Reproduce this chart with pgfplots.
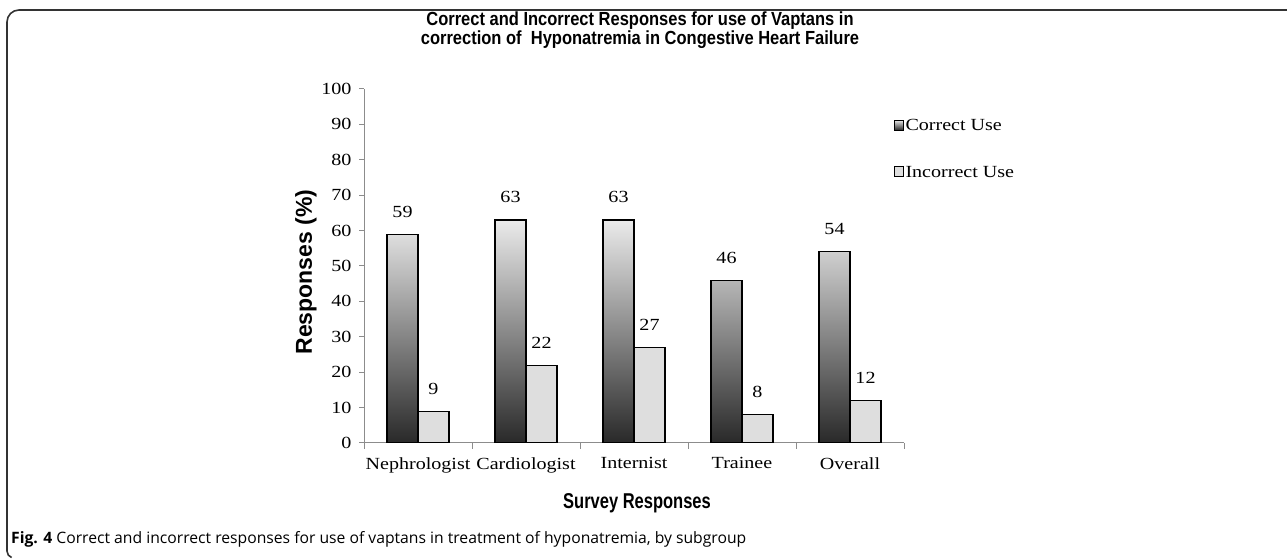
\documentclass[border=0pt]{standalone}
\usepackage{fontspec}
\setmainfont{Liberation Serif}[FakeStretch=1.18]
\newfontfamily\sansf{Liberation Sans}
\newfontfamily\capf{Open Sans}
\usepackage{pgfplots}
\pgfplotsset{compat=1.18}
\pgfplotsset{sqlegend/.style={legend image code/.code={\draw[##1, line width=0.8bp] (0bp,-4bp) rectangle (9bp,6bp);}}}
\pgfplotstableread{
x correct incorrect
0 59 9
1 63 22
2 63 27
3 46 8
4 54 12
}\datatable
\begin{document}
\begin{tikzpicture}[x=1bp,y=1bp]
\path[use as bounding box] (0,0) rectangle (1287,559);
\draw[line width=1.6bp, black!80] (1287,549) -- (19,549) arc[start angle=90,end angle=180,radius=12] -- (7,8) arc[start angle=180,end angle=250,radius=7];
\begin{axis}[
  at={(364bp,116bp)}, anchor=south west,
  scale only axis, width=540bp, height=354bp,
  xmin=-0.5, xmax=4.5, ymin=0, ymax=100,
  ybar=0pt, bar width=31bp,
  axis x line*=bottom, axis y line*=left,
  axis line style={black!45, line width=1bp},
  xtick={0,1,2,3,4},
  xticklabels={Nephrologist,Cardiologist,Internist,Trainee,Overall},
  minor xtick={-0.5,0.5,1.5,2.5,3.5,4.5},
  major x tick style={draw=none},
  ytick={0,10,...,100},
  tick align=outside,
  tick style={black!45, line width=1bp},
  major tick length=5bp, minor tick length=6bp,
  /pgf/number format/assume math mode=true,
  ticklabel style={font=\fontsize{17bp}{19bp}\selectfont},
  yticklabel style={xshift=-4bp},
  xticklabel style={yshift=-6bp},
  nodes near coords,
  every node near coord/.append style={font=\fontsize{17bp}{19bp}\selectfont, yshift=13bp, black},
  legend style={draw=none, fill=none, at={(0.975,0.925)}, anchor=north west,
    font=\fontsize{17bp}{19bp}\selectfont, row sep=30bp, legend cell align=left},
]
\addplot[draw=black, line width=1.2bp, top color=white!92!black, middle color=black!50, bottom color=black!84, sqlegend]
  table[x=x, y=correct] {\datatable};
\addlegendentry{Correct Use}
\addplot[draw=black, line width=1.2bp, fill=black!13, sqlegend]
  table[x=x, y=incorrect] {\datatable};
\addlegendentry{Incorrect Use}
\end{axis}
\node[font=\sansf\bfseries\fontsize{16.5bp}{17bp}\selectfont, align=center, yscale=1.15, transform shape] at (640,529)
  {Correct and Incorrect Responses for use of Vaptans in\\correction of~ Hyponatremia in Congestive Heart Failure};
\node[rotate=90, font=\sansf\bfseries\fontsize{23bp}{26bp}\selectfont] at (306,287) {Responses (\%)};
\node[font=\sansf\bfseries\fontsize{16.5bp}{18bp}\selectfont, yscale=1.3, transform shape] at (637,56) {Survey Responses};
\node[anchor=base west, font=\capf\fontsize{15.7bp}{17bp}\selectfont, inner sep=0pt] at (11,15)
  {{\bfseries Fig. 4} Correct and incorrect responses for use of vaptans in treatment of hyponatremia, by subgroup};
\end{tikzpicture}
\end{document}
